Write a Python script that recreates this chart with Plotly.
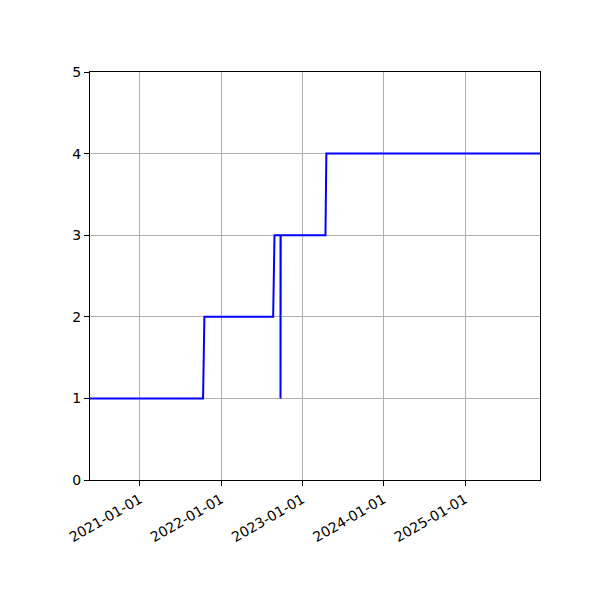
import plotly.graph_objects as go

# Step series
dates = [
    "2020-05-22", "2021-10-12", "2021-10-18", "2022-08-23", "2022-08-29",
    "2022-09-25", "2022-09-25", "2022-09-26", "2023-04-15", "2023-04-19",
    "2025-12-04",
]
levels = [1, 1, 2, 2, 3, 3, 1, 3, 3, 4, 4]

tick_dates = ["2021-01-01", "2022-01-01", "2023-01-01", "2024-01-01", "2025-01-01"]

fig = go.Figure()
fig.add_trace(go.Scatter(
    x=dates, y=levels, mode="lines",
    line=dict(color="#0000ff", width=2),
    showlegend=False,
))

axis_common = dict(
    showline=True, linecolor="black", linewidth=1, mirror=True,
    ticks="outside", ticklen=5, tickcolor="black",
    showgrid=True, gridcolor="#b0b0b0", gridwidth=1,
    zeroline=False,
)

fig.update_xaxes(
    range=[dates[0], dates[-1]],
    tickvals=tick_dates, ticktext=tick_dates,
    tickangle=-30,
    **axis_common,
)
fig.update_yaxes(
    range=[0, 5], tickvals=[0, 1, 2, 3, 4, 5],
    **axis_common,
)

# page body adds an 8px offset, so margins are shifted to compensate
fig.update_layout(
    width=600, height=600,
    margin=dict(l=82, r=68, t=64, b=128),
    plot_bgcolor="white", paper_bgcolor="white",
    font=dict(family="DejaVu Sans", size=14, color="black"),
)

fig.write_html("out.html")
